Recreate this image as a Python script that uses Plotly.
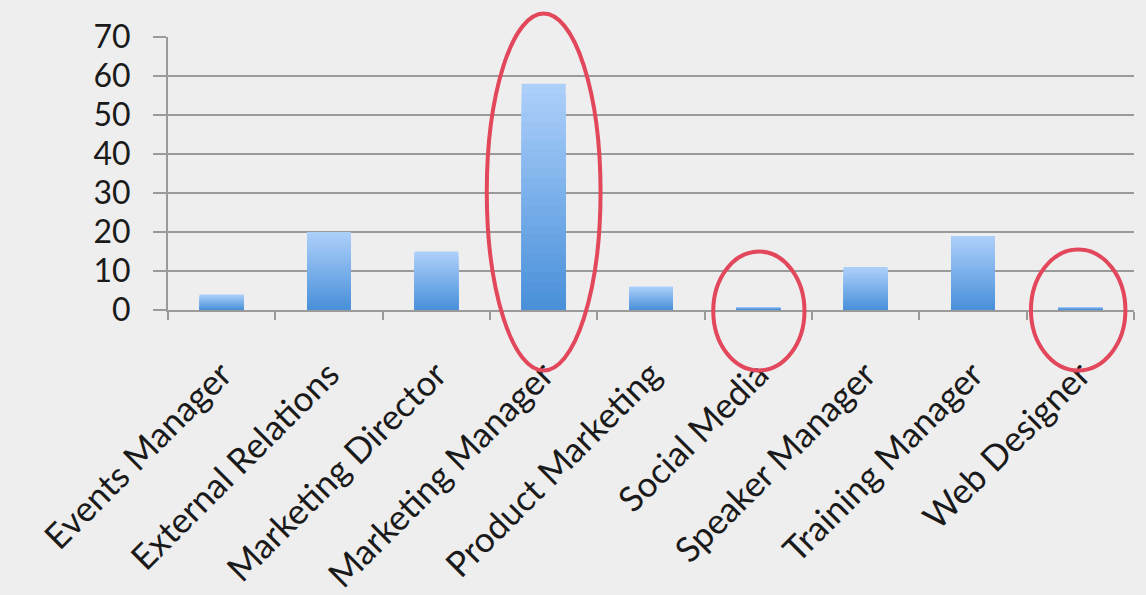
import plotly.graph_objects as go

categories = ["Events Manager", "External Relations", "Marketing Director",
              "Marketing Manager", "Product Marketing", "Social Media",
              "Speaker Manager", "Training Manager", "Web Designer"]
values = [4, 20, 15, 58, 6, 0.8, 11, 19, 0.8]
y_ticks = [0, 10, 20, 30, 40, 50, 60, 70]
highlighted = ["Marketing Manager", "Social Media", "Web Designer"]

Y_MIN, Y_MAX = 0, 70
TOP_RGB = (172, 207, 250)
BOT_RGB = (74, 145, 218)
N_STEPS = 24

fig = go.Figure()
# stepped vertical gradient: full-height light bar first, shorter darker bars on top
for k in range(N_STEPS, 0, -1):
    frac = k / N_STEPS
    t = (k - 1) / (N_STEPS - 1)
    rgb = tuple(round(BOT_RGB[i] + (TOP_RGB[i] - BOT_RGB[i]) * t) for i in range(3))
    fig.add_trace(go.Bar(
        x=categories, y=[v * frac for v in values], width=0.41,
        marker=dict(color="rgb(%d,%d,%d)" % rgb, line=dict(width=0)),
        showlegend=False, hoverinfo="skip"))

# red ellipses around highlighted categories (paper coords derived from axis scales)
ellipse_spec = {
    "Marketing Manager": (-0.53, 0.53, -15.5, 76),
    "Social Media": (-0.42, 0.43, -15.5, 15),
    "Web Designer": (-0.46, 0.42, -15.5, 15.5),
}
n = len(categories)
shapes = []
for cat in highlighted:
    idx = categories.index(cat)
    dx0, dx1, y0, y1 = ellipse_spec[cat]
    shapes.append(dict(
        type="circle", xref="paper", yref="paper",
        x0=(idx + 0.5 + dx0) / n, x1=(idx + 0.5 + dx1) / n,
        y0=(y0 - Y_MIN) / (Y_MAX - Y_MIN), y1=(y1 - Y_MIN) / (Y_MAX - Y_MIN),
        line=dict(color="#e2475b", width=4), layer="above"))

font_family = "Lato, 'Open Sans', sans-serif"
fig.update_layout(
    width=1146, height=595,
    margin=dict(l=168, r=12, t=37, b=285, autoexpand=False),
    paper_bgcolor="#eeeeee", plot_bgcolor="#eeeeee",
    barmode="overlay", bargap=0.59,
    font=dict(family=font_family, size=32, color="#1a1a1a"),
    shapes=shapes,
    xaxis=dict(
        type="category", tickangle=-45, tickson="boundaries", automargin=False,
        ticks="outside", ticklen=8, tickwidth=2, tickcolor="#9a9a9a",
        showline=True, linecolor="#9a9a9a", linewidth=2,
        showgrid=False, ticklabelstandoff=28,
        tickfont=dict(size=35, family=font_family, color="#1a1a1a"),
    ),
    yaxis=dict(
        range=[Y_MIN, Y_MAX], tickvals=y_ticks, automargin=False,
        ticks="outside", ticklen=13, tickwidth=2, tickcolor="#9a9a9a",
        showline=True, linecolor="#9a9a9a", linewidth=2,
        showgrid=True, gridcolor="#9a9a9a", gridwidth=2,
        zeroline=False, ticklabelstandoff=16,
        tickfont=dict(size=32, family=font_family, color="#1a1a1a"),
    ),
)

fig.write_html("out.html")
